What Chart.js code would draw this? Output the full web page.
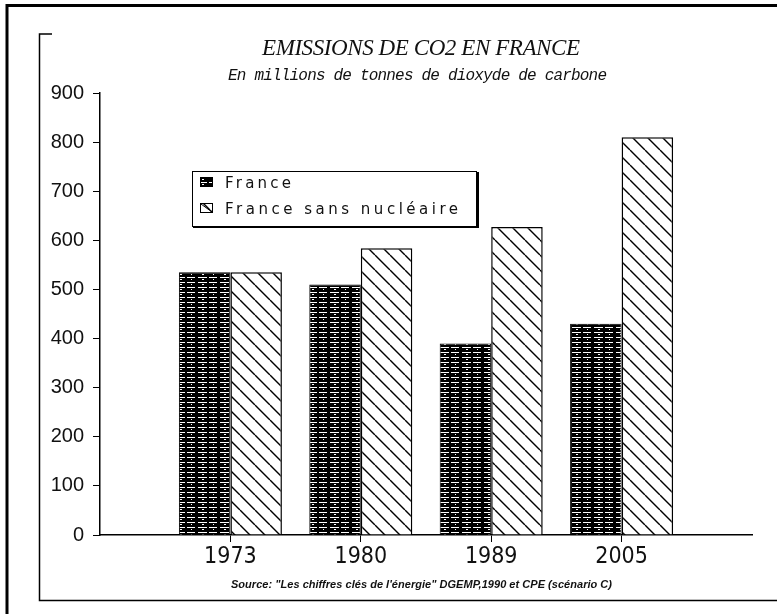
<!DOCTYPE html>
<html>
<head>
<meta charset="utf-8">
<script src="https://cdn.jsdelivr.net/npm/chart.js@4.4.1/dist/chart.umd.min.js"></script>
<style>
  body { margin: 0; background: #fff; }
  canvas { display: block; }
</style>
</head>
<body>
<canvas id="co2Chart" width="777" height="614"></canvas>
<script>
// données
const categories = ['1973', '1980', '1989', '2005'];
const france = [535, 510, 390, 430];
const franceSansNucleaire = [535, 584, 627, 810];
const yTicks = [0, 100, 200, 300, 400, 500, 600, 700, 800, 900];
const seriesNames = ['France', 'France sans nucléaire'];

// motifs de remplissage (hachures)
function stripePattern() {
    const c = document.createElement('canvas');
    c.width = 22; c.height = 5;
    const g = c.getContext('2d');
    g.fillStyle = '#000';
    g.fillRect(0, 0, 22, 5);
    g.fillStyle = '#fff';
    g.fillRect(0, 2, 9, 1);
    g.fillRect(11, 2, 8, 1);
    g.fillRect(4, 4, 2, 1);
    g.fillRect(15, 4, 1, 1);
    return g.createPattern(c, 'repeat');
}

function diagonalPattern() {
    const s = 15;
    const c = document.createElement('canvas');
    c.width = s; c.height = s;
    const g = c.getContext('2d');
    g.fillStyle = '#fff';
    g.fillRect(0, 0, s, s);
    g.strokeStyle = '#000';
    g.lineWidth = 1.4;
    g.beginPath();
    for (const k of [-1, 0, 1]) {
        g.moveTo(k * s, 0);
        g.lineTo(k * s + s, s);
    }
    g.stroke();
    return g.createPattern(c, 'repeat');
}

const fills = [stripePattern(), diagonalPattern()];

// texte ajusté à une largeur donnée
function drawFit(ctx, text, x, y, width, font) {
    ctx.font = font;
    ctx.letterSpacing = '0px';
    const w = ctx.measureText(text).width;
    ctx.letterSpacing = ((width - w) / (text.length - 1)) + 'px';
    ctx.fillText(text, x, y);
    ctx.letterSpacing = '0px';
}

const decorPlugin = {
    id: 'decor',
    beforeDraw(chart) {
        const ctx = chart.ctx;
        ctx.save();
        ctx.fillStyle = '#fff';
        ctx.fillRect(0, 0, chart.width, chart.height);
        ctx.restore();
    },
    afterDraw(chart) {
        const ctx = chart.ctx;
        ctx.save();
        ctx.strokeStyle = '#000';

        // cadre extérieur
        ctx.lineWidth = 3;
        ctx.beginPath();
        ctx.moveTo(7, 614); ctx.lineTo(7, 5.5); ctx.lineTo(777, 5.5);
        ctx.stroke();

        // cadre intérieur
        ctx.lineWidth = 1.5;
        ctx.beginPath();
        ctx.moveTo(52, 34); ctx.lineTo(39.5, 34); ctx.lineTo(39.5, 600.5); ctx.lineTo(777, 600.5);
        ctx.stroke();

        // titres
        ctx.fillStyle = '#111';
        ctx.textBaseline = 'alphabetic';
        ctx.textAlign = 'left';
        drawFit(ctx, 'EMISSIONS DE CO2 EN FRANCE', 262, 55, 318, 'italic 23px "Liberation Serif"');
        drawFit(ctx, 'En millions de tonnes de dioxyde de carbone', 228, 80, 379, 'italic 16px "Liberation Mono"');
        drawFit(ctx, 'Source: "Les chiffres clés de l\'énergie" DGEMP,1990 et CPE (scénario C)', 231, 588, 381, 'italic bold 11px "Liberation Sans"');

        // légende
        ctx.lineWidth = 1;
        ctx.strokeRect(192.5, 171.5, 284, 55);
        ctx.lineWidth = 2;
        ctx.beginPath();
        ctx.moveTo(193, 227); ctx.lineTo(478, 227); ctx.lineTo(478, 172);
        ctx.stroke();

        const rows = [177, 203];
        const baselines = [188, 214];
        seriesNames.forEach((name, i) => {
            ctx.fillStyle = fills[i];
            ctx.fillRect(200, rows[i], 13, 10);
            ctx.lineWidth = 1;
            ctx.strokeStyle = '#000';
            ctx.strokeRect(200.5, rows[i] + 0.5, 12, 9);
            if (i === 1) {
                ctx.beginPath();
                ctx.moveTo(201, rows[i] + 1); ctx.lineTo(212, rows[i] + 9);
                ctx.stroke();
            }
            ctx.fillStyle = '#111';
            const width = i === 0 ? 66 : 233;
            drawFit(ctx, name, 225, baselines[i], width, '15px "DejaVu Sans"');
        });
        ctx.restore();
    }
};

const labels = ['', ...categories, ''];
const pad = arr => [null, ...arr, null];

new Chart(document.getElementById('co2Chart'), {
    type: 'bar',
    data: {
        labels: labels,
        datasets: [
            {
                label: seriesNames[0],
                data: pad(france),
                backgroundColor: fills[0],
                borderColor: '#000',
                borderWidth: 1
            },
            {
                label: seriesNames[1],
                data: pad(franceSansNucleaire),
                backgroundColor: fills[1],
                borderColor: '#000',
                borderWidth: 1.5
            }
        ]
    },
    options: {
        responsive: false,
        animation: false,
        events: [],
        categoryPercentage: 0.79,
        barPercentage: 1.0,
        layout: { padding: { left: 0, right: 25, top: 93, bottom: 0 } },
        plugins: {
            legend: { display: false },
            title: { display: false },
            tooltip: { enabled: false }
        },
        scales: {
            x: {
                offset: false,
                afterFit: s => { s.height = 79; },
                border: { color: '#000', width: 1.5 },
                grid: {
                    offset: false,
                    drawOnChartArea: false,
                    drawTicks: true,
                    tickLength: 7,
                    color: c => (c.index === 0 || c.index === labels.length - 1) ? 'rgba(0,0,0,0)' : '#000'
                },
                ticks: {
                    autoSkip: false,
                    maxRotation: 0,
                    padding: 1,
                    color: '#111',
                    font: { family: '"Liberation Sans Narrow", "DejaVu Sans Condensed", sans-serif', size: 23 }
                }
            },
            y: {
                min: 0,
                max: 900,
                afterFit: s => { s.width = 100; },
                afterBuildTicks: s => { s.ticks = yTicks.map(v => ({ value: v })); },
                border: { color: '#000', width: 1.5 },
                grid: {
                    drawOnChartArea: false,
                    drawTicks: true,
                    tickLength: 7,
                    color: '#000'
                },
                ticks: {
                    padding: 9,
                    color: '#111',
                    font: { family: '"Liberation Sans", sans-serif', size: 20 }
                }
            }
        }
    },
    plugins: [decorPlugin]
});
</script>
</body>
</html>
